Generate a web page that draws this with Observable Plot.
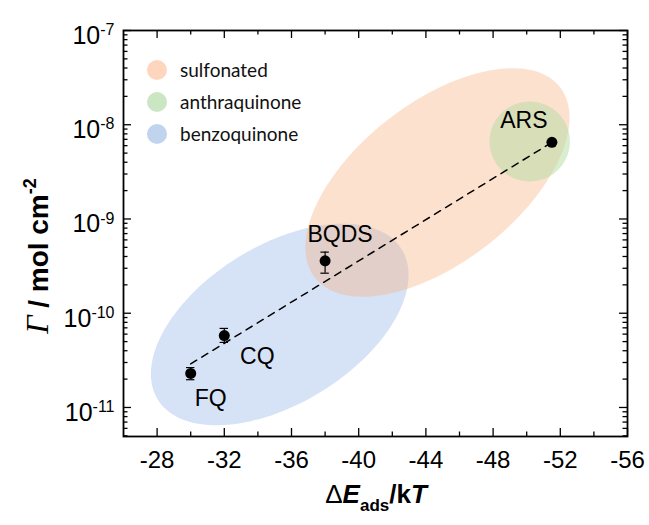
<!DOCTYPE html>
<html><head><meta charset="utf-8">
<script src="https://cdn.jsdelivr.net/npm/d3@7"></script>
<script src="https://cdn.jsdelivr.net/npm/@observablehq/plot@0.6"></script>
<style>
body{margin:0;background:#fff;}
#wrap{position:relative;width:649px;height:525px;}
.lg{position:absolute;left:147px;display:flex;align-items:center;font-family:Lato,"Open Sans",sans-serif;font-size:19px;color:#111;}
.lg span.c{display:inline-block;width:20px;height:20px;border-radius:50%;margin-right:13px;}
</style></head><body><div id="wrap"></div>
<script>
// ---- data ----
const compounds = ["FQ", "CQ", "BQDS", "ARS"];
const energy = [-30, -32, -38, -51.5];
const gamma = [2.3e-11, 5.8e-11, 3.6e-10, 6.5e-9];
const gammaLow = [1.97e-11, 4.9e-11, 2.66e-10, 6.3e-9];
const gammaHigh = [2.65e-11, 6.9e-11, 4.45e-10, 6.8e-9];
const fitEnergy = [-30, -51.5];
const fitGamma = [2.9e-11, 6.5e-9];
const groups = ["sulfonated", "anthraquinone", "benzoquinone"];
const groupCenterE = [-44.69, -50.18, -35.3];
const groupCenterG = [2.44e-9, 6.64e-9, 7.6e-11];
// conjugate semi-diameters of each region: [ΔE units, decades]
const groupAxisA = [[-7.29, 1.012], [-2.39, 0], [-7.25, 0.8]];
const groupAxisB = [[-2.94, -0.668], [0, -0.424], [-2.5, -0.71]];
const xTicks = [-28, -32, -36, -40, -44, -48, -52, -56];
const xMinor = [-30, -34, -38, -42, -46, -50, -54];
const yTicks = [1e-7, 1e-8, 1e-9, 1e-10, 1e-11];

// ---- styles ----
const groupFill = ["#f8b386", "#b4dca2", "#9dbbe6"];
const groupOpacity = [0.4, 0.5, 0.42];
const legendFill = ["#fdd6bd", "#cbe6c3", "#c1d4ee"];
const drawOrder = [2, 0, 1];
const labelDx = [20, 33, 15, -28];
const labelDy = [25, 21, -26, -22];

const W = 649, H = 525, mL = 123, mR = 22, mT = 30, mB = 89;
const fW = W - mL - mR, fH = H - mT - mB;
const majorLen = 8, minorLen = 4.5;
const yMinor = [];
for (let e = -12; e <= -8; e++) for (let k = 2; k <= 9; k++) { const v = k * Math.pow(10, e); if (v > 4.92e-12 && v < 1e-7) yMinor.push(v); }

const points = compounds.map((c, i) => ({c, e: energy[i], g: gamma[i], lo: gammaLow[i], hi: gammaHigh[i]}));
const fit = fitEnergy.map((e, i) => ({e, g: fitGamma[i]}));
function ellipse(i) {
  return d3.range(0, 144).map(k => {
    const t = 2 * Math.PI * k / 144, c = Math.cos(t), s = Math.sin(t);
    return {e: groupCenterE[i] + groupAxisA[i][0] * c + groupAxisB[i][0] * s,
            g: groupCenterG[i] * Math.pow(10, groupAxisA[i][1] * c + groupAxisB[i][1] * s)};
  });
}
const capHalf = 0.25;
const font = "'Liberation Sans', Arial, sans-serif";

const plot = Plot.plot({
  width: W, height: H,
  marginLeft: mL, marginRight: mR, marginTop: mT, marginBottom: mB,
  style: {fontFamily: font, background: "white", color: "black"},
  x: {domain: [-26, -56], label: null},
  y: {type: "log", domain: [4.92e-12, 1e-7], label: null},
  marks: [
    ...drawOrder.map(i => Plot.line(ellipse(i), {x: "e", y: "g", curve: "linear-closed", fill: groupFill[i], fillOpacity: groupOpacity[i], stroke: "none"})),
    Plot.line(fit, {x: "e", y: "g", stroke: "black", strokeWidth: 1.5, strokeDasharray: "7,6"}),
    Plot.ruleX(points, {x: "e", y1: "lo", y2: "hi", stroke: "black", strokeWidth: 1.2}),
    Plot.ruleY(points, {y: "lo", x1: d => d.e - capHalf, x2: d => d.e + capHalf, stroke: "black", strokeWidth: 1.2}),
    Plot.ruleY(points, {y: "hi", x1: d => d.e - capHalf, x2: d => d.e + capHalf, stroke: "black", strokeWidth: 1.2}),
    Plot.dot(points, {x: "e", y: "g", r: 5.5, fill: "black"}),
    ...compounds.map((c, i) => Plot.text([points[i]], {x: "e", y: "g", text: "c", dx: labelDx[i], dy: labelDy[i], fontSize: 23, fill: "black"})),
    // ticks (inward, mirrored)
    Plot.ruleX(xTicks, {x: d => d, insetTop: fH - majorLen, stroke: "black", strokeWidth: 1.3}),
    Plot.ruleX(xTicks, {x: d => d, insetBottom: fH - majorLen, stroke: "black", strokeWidth: 1.3}),
    Plot.ruleX(xMinor, {x: d => d, insetTop: fH - minorLen, stroke: "black", strokeWidth: 1.3}),
    Plot.ruleX(xMinor, {x: d => d, insetBottom: fH - minorLen, stroke: "black", strokeWidth: 1.3}),
    Plot.ruleY(yTicks, {y: d => d, insetRight: fW - majorLen, stroke: "black", strokeWidth: 1.3}),
    Plot.ruleY(yTicks, {y: d => d, insetLeft: fW - majorLen, stroke: "black", strokeWidth: 1.3}),
    Plot.ruleY(yMinor, {y: d => d, insetRight: fW - minorLen, stroke: "black", strokeWidth: 1.3}),
    Plot.ruleY(yMinor, {y: d => d, insetLeft: fW - minorLen, stroke: "black", strokeWidth: 1.3}),
    Plot.axisX({ticks: xTicks, tickSize: 0, tickPadding: 14, fontSize: 24, tickFormat: d => String(d), label: null}),
    Plot.axisY({ticks: yTicks, tickSize: 0, tickPadding: 9, fontSize: 25, tickFormat: d => String(Math.round(Math.log10(d))), label: null}),
    Plot.frame({stroke: "black", strokeWidth: 1.8})
  ]
});

// superscript exponents on y tick labels
plot.querySelectorAll('g[aria-label="y-axis tick label"] text').forEach(t => {
  const ex = t.textContent;
  t.textContent = "10";
  t.setAttribute("dy", "0.22em");
  const ts = document.createElementNS("http://www.w3.org/2000/svg", "tspan");
  ts.setAttribute("dy", "-0.55em");
  ts.setAttribute("font-size", "16");
  ts.textContent = ex;
  t.appendChild(ts);
});

const s = d3.select(plot);
const xl = s.append("text").attr("x", 376).attr("y", 503).attr("text-anchor", "middle")
  .attr("font-family", font).attr("font-size", 26).attr("font-weight", "bold").attr("fill", "black");
xl.append("tspan").attr("font-weight", "normal").text("Δ");
xl.append("tspan").attr("font-style", "italic").text("E");
xl.append("tspan").attr("font-size", 17).attr("dy", 8).text("ads");
xl.append("tspan").attr("dy", -8).text("/k");
xl.append("tspan").attr("font-style", "italic").text("T");

const yl = s.append("text").attr("transform", "translate(48,256) rotate(-90)").attr("text-anchor", "middle")
  .attr("font-family", font).attr("font-size", 28).attr("font-weight", "bold").attr("fill", "black");
yl.append("tspan").attr("font-family", "'Liberation Serif', 'DejaVu Serif', serif").attr("font-style", "italic").attr("font-weight", "normal").attr("font-size", 32).text("Γ");
yl.append("tspan").text(" / mol cm");
yl.append("tspan").attr("font-size", 18).attr("dy", -12).text("-2");

const wrap = document.getElementById("wrap");
wrap.appendChild(plot);
groups.forEach((g, i) => {
  const row = document.createElement("div");
  row.className = "lg";
  row.style.top = (58 + i * 32) + "px";
  row.innerHTML = `<span class="c" style="background:${legendFill[i]}"></span><span>${g}</span>`;
  wrap.appendChild(row);
});
</script></body></html>
